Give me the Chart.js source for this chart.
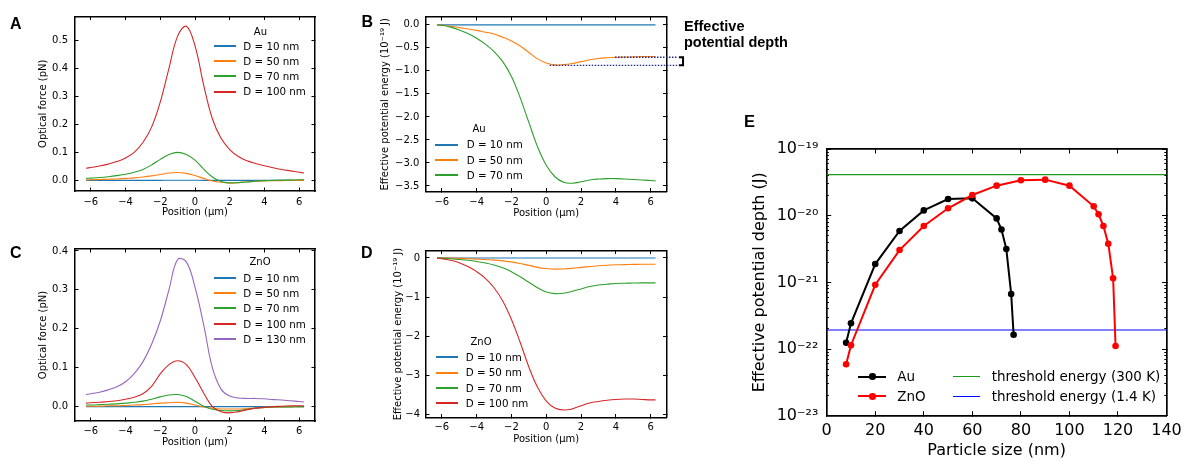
<!DOCTYPE html>
<html><head><meta charset="utf-8">
<script src="https://cdn.jsdelivr.net/npm/chart.js@4.4.1/dist/chart.umd.min.js"></script>
<style>
html,body{margin:0;padding:0;background:#fff;}
#fig{position:relative;width:1192px;height:461px;overflow:hidden;background:#fff;}
#fig canvas{position:absolute;left:0;top:0;}
.t{position:absolute;white-space:nowrap;color:#000;font-family:'DejaVu Sans',sans-serif;}
.lbl{position:absolute;white-space:nowrap;color:#000;font-family:'Liberation Sans',Arial,sans-serif;font-weight:bold;}
.ln{position:absolute;}
.dot{position:absolute;border-radius:50%;}
</style></head>
<body><div id="fig">
<canvas id="cA" width="1192" height="461"></canvas>
<canvas id="cB" width="1192" height="461"></canvas>
<canvas id="cC" width="1192" height="461"></canvas>
<canvas id="cD" width="1192" height="461"></canvas>
<canvas id="cE" width="1192" height="461"></canvas>
</div>
<script>
// ---------------- DATA ----------------
const XS = [-6.28,-6,-5.5,-5,-4.5,-4,-3.5,-3,-2.5,-2,-1.5,-1,-0.5,0,0.5,1,1.5,2,2.5,3,3.5,4,4.5,5,5.5,6,6.28];

// Panel A: Au optical force (pN)
const A_LABELS = ['D = 10 nm','D = 50 nm','D = 70 nm','D = 100 nm'];
const A_D10  = [0,0,0,0,0,0,0,0,0,0.0001,0.0002,0.0003,0.0003,0.0002,0.0001,0,0,0,0,0,0,0,0,0,0,0,0];
const A_D50  = [0.001,0.002,0.003,0.004,0.005,0.007,0.009,0.012,0.016,0.021,0.026,0.028,0.025,0.017,0.007,-0.002,-0.007,-0.009,-0.008,-0.005,-0.003,-0.002,-0.001,-0.001,0,0,0];
const A_D70  = [0.007,0.008,0.010,0.013,0.017,0.022,0.029,0.039,0.055,0.075,0.092,0.100,0.092,0.072,0.040,0.012,-0.004,-0.009,-0.008,-0.006,-0.003,-0.001,0,0.001,0.001,0.002,0.002];
const A_D100 = [0.043,0.046,0.051,0.058,0.067,0.080,0.100,0.135,0.190,0.280,0.400,0.515,0.550,0.480,0.340,0.220,0.150,0.110,0.085,0.070,0.060,0.052,0.045,0.039,0.034,0.029,0.026];

// Panel B: Au effective potential energy (1e-19 J)
const B_LABELS = ['D = 10 nm','D = 50 nm','D = 70 nm'];
const B_D10 = [0,0,0,0,0,0,0,0,0,0,0,0,0,0,0,0,0,0,0,0,0,0,0,0,0,0,0];
const B_D50 = [0,-0.01,-0.03,-0.06,-0.09,-0.12,-0.16,-0.20,-0.27,-0.35,-0.46,-0.60,-0.74,-0.83,-0.87,-0.865,-0.84,-0.80,-0.76,-0.73,-0.715,-0.705,-0.70,-0.695,-0.69,-0.69,-0.69];
const B_D70 = [0,-0.01,-0.05,-0.11,-0.19,-0.29,-0.42,-0.58,-0.80,-1.12,-1.58,-2.12,-2.65,-3.05,-3.30,-3.42,-3.44,-3.41,-3.37,-3.35,-3.34,-3.34,-3.35,-3.36,-3.37,-3.38,-3.39];
const DEPTH_TOP = -0.705, DEPTH_TOP_FROM = 3.95;
const DEPTH_BOTTOM = -0.88, DEPTH_BOTTOM_FROM = 0.2;
const DEPTH_TO = 7.52, BRACKET_X = [7.62, 7.86];

// Panel C: ZnO optical force (pN)
const C_LABELS = ['D = 10 nm','D = 50 nm','D = 70 nm','D = 100 nm','D = 130 nm'];
const C_D10  = [0,0,0,0,0,0,0,0,0,0,0,0,0,0,0,0,0,0,0,0,0,0,0,0,0,0,0];
const C_D50  = [0.001,0.001,0.001,0.002,0.002,0.003,0.004,0.005,0.007,0.009,0.010,0.011,0.009,0.004,-0.001,-0.004,-0.006,-0.006,-0.006,-0.005,-0.004,-0.002,-0.001,-0.001,0,0,0];
const C_D70  = [0.004,0.004,0.005,0.006,0.007,0.009,0.011,0.014,0.019,0.025,0.030,0.031,0.026,0.014,0.001,-0.007,-0.010,-0.011,-0.010,-0.007,-0.004,-0.002,-0.001,-0.001,-0.001,0,0];
const C_D100 = [0.009,0.010,0.011,0.013,0.015,0.019,0.024,0.033,0.052,0.084,0.108,0.118,0.108,0.075,0.035,0.000,-0.013,-0.016,-0.013,-0.008,-0.004,-0.002,0,0.001,0.002,0.002,0.002];
const C_D130 = [0.031,0.033,0.037,0.043,0.051,0.064,0.085,0.115,0.160,0.220,0.300,0.378,0.372,0.307,0.210,0.100,0.045,0.027,0.022,0.021,0.021,0.020,0.018,0.017,0.015,0.013,0.012];

// Panel D: ZnO effective potential energy (1e-19 J)
const D_LABELS = ['D = 10 nm','D = 50 nm','D = 70 nm','D = 100 nm'];
const D_D10  = [0,0,0,0,0,0,0,0,0,0,0,0,0,0,0,0,0,0,0,0,0,0,0,0,0,0,0];
const D_D50  = [0,0,-0.005,-0.01,-0.02,-0.03,-0.04,-0.055,-0.075,-0.10,-0.14,-0.19,-0.24,-0.27,-0.285,-0.28,-0.265,-0.24,-0.22,-0.20,-0.185,-0.175,-0.17,-0.165,-0.16,-0.16,-0.16];
const D_D70  = [0,-0.005,-0.02,-0.04,-0.06,-0.09,-0.13,-0.18,-0.25,-0.35,-0.48,-0.62,-0.76,-0.87,-0.91,-0.90,-0.85,-0.79,-0.73,-0.69,-0.67,-0.65,-0.645,-0.64,-0.635,-0.635,-0.635];
const D_D100 = [0,-0.02,-0.06,-0.12,-0.22,-0.35,-0.52,-0.76,-1.10,-1.57,-2.15,-2.78,-3.30,-3.65,-3.83,-3.88,-3.85,-3.77,-3.70,-3.66,-3.63,-3.61,-3.60,-3.60,-3.61,-3.62,-3.62];

// Panel E: effective potential depth (J) vs particle size (nm)
const AU_SIZE   = [8,10,20,30,40,50,60,70,72,74,76,77];
const AU_DEPTH  = [1.24e-22,2.43e-22,1.88e-21,5.9e-21,1.2e-20,1.78e-20,1.82e-20,9.1e-21,6.2e-21,3.16e-21,6.7e-22,1.64e-22];
const ZNO_SIZE  = [8,10,20,30,40,50,60,70,80,90,100,110,112,114,116,118,119];
const ZNO_DEPTH = [5.9e-23,1.14e-22,9.2e-22,3.05e-21,7.0e-21,1.29e-20,2.04e-20,2.82e-20,3.39e-20,3.47e-20,2.82e-20,1.38e-20,1.05e-20,7.0e-21,3.8e-21,1.15e-21,1.11e-22];
const THRESH_300K = 4.14e-20;
const THRESH_1_4K = 1.93e-22;
const E_LABELS = ['Au','ZnO','threshold energy (300 K)','threshold energy (1.4 K)'];

// Tick values
const POS_TICKS = [-6,-4,-2,0,2,4,6];
const A_TICKS = [0,0.1,0.2,0.3,0.4,0.5];
const B_TICKS = [0,-0.5,-1,-1.5,-2,-2.5,-3,-3.5];
const C_TICKS = [0,0.1,0.2,0.3,0.4];
const D_TICKS = [0,-1,-2,-3,-4];
const E_X_TICKS = [0,20,40,60,80,100,120,140];
const E_DECADES = [-23,-22,-21,-20,-19];
const E_MINOR_MULT = [2,3,4,5,6,7,8,9];

// ---------------- STYLE / HELPERS ----------------
const FONT = "'DejaVu Sans', sans-serif";
const COL = {c10:'#1f77b4', c50:'#ff7f0e', c70:'#2ca02c', c100:'#d62728', c130:'#9467bd'};
const SUP = {'-':'\u207B','0':'\u2070','1':'\u00B9','2':'\u00B2','3':'\u00B3','4':'\u2074','5':'\u2075','6':'\u2076','7':'\u2077','8':'\u2078','9':'\u2079'};
const sup = s => String(s).replace(/[-0-9]/g, c => SUP[c]);
const minus = s => String(s).replace('-', '\u2212');
const fmt1 = v => minus((Math.abs(v) < 1e-9 ? 0 : v).toFixed(1));
const fmt0 = v => minus(String(Math.round(v)));
const ENERGY_TITLE = 'Effective potential energy (10' + sup(-19) + ' J)';

function curve(ys, color, i, xs) {
  xs = xs || XS;
  return {data: xs.map((x, k) => ({x, y: ys[k]})), borderColor: color, borderWidth: 1.1,
    pointRadius: 0, tension: 0.4, fill: false, order: -i, xAxisID: 'x', yAxisID: 'y'};
}

function buildPanel(id, P, datasets) {
  const f = {family: FONT, size: P.fs};
  const setTicks = arr => s => { s.ticks = arr.map(v => ({value: v})); };
  const grid = tl => ({display: true, drawOnChartArea: false, drawTicks: true, tickLength: -tl, tickColor: '#000', tickWidth: 1});
  const border = {display: true, color: '#000', width: P.bw};
  const yType = P.yType || 'linear';
  const scales = {
    x: {type: 'linear', position: 'bottom', min: P.xMin, max: P.xMax,
      afterBuildTicks: setTicks(P.xTicks), afterFit: s => { s.height = P.xH; },
      ticks: {autoSkip: false, maxRotation: 0, minRotation: 0, padding: P.xPad, color: '#000', font: f, callback: P.xFmt},
      grid: grid(P.tl), border: border,
      title: {display: true, text: P.xTitle, color: '#000', font: f, padding: 0}},
    xTop: {type: 'linear', axis: 'x', position: 'top', min: P.xMin, max: P.xMax,
      afterBuildTicks: setTicks(P.xTicks), afterFit: s => { s.height = 0; },
      ticks: {display: false}, grid: grid(P.tl), border: border},
    y: {type: yType, position: 'left', weight: 2, min: P.yMin, max: P.yMax,
      afterBuildTicks: setTicks(P.yTicks), afterFit: s => { s.width = P.left - P.padL; },
      ticks: {autoSkip: false, padding: P.yPad, color: '#000', font: f, callback: P.yFmt},
      grid: grid(P.tl), border: border,
      title: {display: true, text: P.yTitle, color: '#000', font: f, padding: 0}},
    yRight: {type: yType, axis: 'y', position: 'right', min: P.yMin, max: P.yMax,
      afterBuildTicks: setTicks(P.yTicks), afterFit: s => { s.width = 0; },
      ticks: {display: false}, grid: grid(P.tl), border: border}
  };
  if (P.yMinor) {
    scales.yMinorL = {type: yType, axis: 'y', position: 'left', weight: 1, min: P.yMin, max: P.yMax,
      afterBuildTicks: setTicks(P.yMinor), afterFit: s => { s.width = 0; },
      ticks: {display: false}, grid: grid(P.tlMinor), border: {display: false}};
    scales.yMinorR = {type: yType, axis: 'y', position: 'right', min: P.yMin, max: P.yMax,
      afterBuildTicks: setTicks(P.yMinor), afterFit: s => { s.width = 0; },
      ticks: {display: false}, grid: grid(P.tlMinor), border: {display: false}};
  }
  return new Chart(document.getElementById(id), {
    type: 'line',
    data: {datasets},
    options: {
      responsive: false, animation: false, events: [],
      layout: {autoPadding: false, padding: {left: P.padL, top: P.top, right: 1192 - P.right, bottom: 461 - P.bottom - P.xH}},
      plugins: {legend: {display: false}, tooltip: {enabled: false}},
      scales
    }
  });
}

const fig = document.getElementById('fig');
function addText(text, left, cy, size, opts) {
  opts = opts || {};
  const d = document.createElement('div');
  d.className = opts.bold ? 'lbl' : 't';
  d.textContent = text;
  d.style.fontSize = size + 'px';
  d.style.lineHeight = size + 'px';
  d.style.top = (opts.capTop !== undefined ? opts.capTop - 0.13 * size : cy - 0.48 * size) + 'px';
  d.style.left = left + 'px';
  if (opts.center) d.style.transform = 'translateX(-50%)';
  fig.appendChild(d);
}
function addLine(x0, x1, cy, color, w) {
  const d = document.createElement('div');
  d.className = 'ln';
  d.style.left = Math.round(x0) + 'px'; d.style.width = Math.round(x1 - x0) + 'px';
  d.style.top = Math.round(cy - w / 2) + 'px'; d.style.height = w + 'px';
  d.style.background = color;
  fig.appendChild(d);
}
function addDot(cx, cy, r, color) {
  const d = document.createElement('div');
  d.className = 'dot';
  d.style.left = (cx - r) + 'px'; d.style.top = (cy - r) + 'px';
  d.style.width = (2 * r) + 'px'; d.style.height = (2 * r) + 'px';
  d.style.background = color;
  fig.appendChild(d);
}
function legend(L, labels, colors) {
  addText(L.title, L.titleCx, L.titleCy, L.titleSize, {center: true});
  labels.forEach((lab, i) => {
    const cy = L.row0 + i * L.dy;
    addLine(L.x0, L.x1, cy, colors[i], 1.5);
    addText(lab, L.tx, cy, L.size);
  });
}

// ---------------- PANELS ----------------
const POS_TITLE = 'Position (\u00B5m)';
const FORCE_TITLE = 'Optical force (pN)';

buildPanel('cA', {left: 75, right: 315, top: 16, bottom: 191, padL: 37.7, xH: 27.5, fs: 10, tl: 3.5, bw: 1.5,
  xPad: 8.7, yPad: 10.5, xMin: -6.91, xMax: 6.91, yMin: -0.038, yMax: 0.585,
  xTicks: POS_TICKS, yTicks: A_TICKS, xFmt: fmt0, yFmt: fmt1, xTitle: POS_TITLE, yTitle: FORCE_TITLE},
  [curve(A_D10, COL.c10, 0), curve(A_D50, COL.c50, 1), curve(A_D70, COL.c70, 2), curve(A_D100, COL.c100, 3)]);

const bDot = (y, x0) => ({data: [{x: x0, y}, {x: DEPTH_TO, y}], borderColor: '#1c2f86', borderWidth: 1.4,
  borderDash: [1.5, 1.5], pointRadius: 0, tension: 0, clip: false, order: -10, xAxisID: 'x', yAxisID: 'y'});
buildPanel('cB', {left: 426, right: 666.5, top: 17, bottom: 191.5, padL: 379, xH: 27.8, fs: 10, tl: 3.5, bw: 1.5,
  xPad: 8.3, yPad: 10.2, xMin: -6.91, xMax: 6.91, yMin: -3.62, yMax: 0.17,
  xTicks: POS_TICKS, yTicks: B_TICKS, xFmt: fmt0, yFmt: fmt1, xTitle: POS_TITLE, yTitle: ENERGY_TITLE},
  [curve(B_D10, COL.c10, 0), curve(B_D50, COL.c50, 1), curve(B_D70, COL.c70, 2),
   bDot(DEPTH_TOP, DEPTH_TOP_FROM), bDot(DEPTH_BOTTOM, DEPTH_BOTTOM_FROM),
   {data: [{x: BRACKET_X[0], y: DEPTH_TOP}, {x: BRACKET_X[1], y: DEPTH_TOP}, {x: BRACKET_X[1], y: DEPTH_BOTTOM}, {x: BRACKET_X[0], y: DEPTH_BOTTOM}],
    borderColor: '#000', borderWidth: 2, pointRadius: 0, tension: 0, clip: false, order: -11, xAxisID: 'x', yAxisID: 'y'}]);

buildPanel('cC', {left: 75, right: 315, top: 249, bottom: 421, padL: 37.7, xH: 27.5, fs: 10, tl: 3.5, bw: 1.5,
  xPad: 7.5, yPad: 10.5, xMin: -6.91, xMax: 6.91, yMin: -0.037, yMax: 0.405,
  xTicks: POS_TICKS, yTicks: C_TICKS, xFmt: fmt0, yFmt: fmt1, xTitle: POS_TITLE, yTitle: FORCE_TITLE},
  [curve(C_D10, COL.c10, 0), curve(C_D50, COL.c50, 1), curve(C_D70, COL.c70, 2), curve(C_D100, COL.c100, 3), curve(C_D130, COL.c130, 4)]);

buildPanel('cD', {left: 426, right: 666.5, top: 250.5, bottom: 417.5, padL: 392, xH: 28, fs: 10, tl: 3.5, bw: 1.5,
  xPad: 7.7, yPad: 9.5, xMin: -6.91, xMax: 6.91, yMin: -4.07, yMax: 0.19,
  xTicks: POS_TICKS, yTicks: D_TICKS, xFmt: fmt0, yFmt: fmt0, xTitle: POS_TITLE, yTitle: ENERGY_TITLE},
  [curve(D_D10, COL.c10, 0), curve(D_D50, COL.c50, 1), curve(D_D70, COL.c70, 2), curve(D_D100, COL.c100, 3)]);

const E_MAJOR = E_DECADES.map(e => Math.pow(10, e));
const E_MINOR = [];
E_DECADES.slice(0, -1).forEach(e => E_MINOR_MULT.forEach(m => E_MINOR.push(m * Math.pow(10, e))));
const hline = (y, color) => ({data: [{x: E_X_TICKS[0], y}, {x: E_X_TICKS[E_X_TICKS.length - 1], y}], borderColor: color,
  borderWidth: 1.2, pointRadius: 0, tension: 0, order: 5, xAxisID: 'x', yAxisID: 'y'});
const series = (xs, ys, color, o) => ({data: xs.map((x, k) => ({x, y: ys[k]})), borderColor: color, borderWidth: 2,
  pointRadius: 3.3, pointBackgroundColor: color, pointBorderColor: color, pointBorderWidth: 0, tension: 0, order: o,
  xAxisID: 'x', yAxisID: 'y'});
buildPanel('cE', {left: 826.7, right: 1173.3, top: 149, bottom: 415.7, padL: 750.4, xH: 44.9, fs: 16, tl: 4.5, tlMinor: 2.2, bw: 1.7,
  xPad: 10.2, yPad: 12.9, xMin: 0, xMax: 140, yType: 'logarithmic', yMin: E_MAJOR[0], yMax: E_MAJOR[E_MAJOR.length - 1],
  xTicks: E_X_TICKS, yTicks: E_MAJOR, yMinor: E_MINOR,
  xFmt: v => String(v), yFmt: v => '10' + sup(Math.round(Math.log10(v))),
  xTitle: 'Particle size (nm)', yTitle: 'Effective potential depth (J)'},
  [hline(THRESH_300K, '#1a9a1a'), hline(THRESH_1_4K, '#0000ff'),
   series(AU_SIZE, AU_DEPTH, '#000000', 1), series(ZNO_SIZE, ZNO_DEPTH, '#ff0000', 0)]);

// ---------------- LEGENDS & LABELS ----------------
legend({title: 'Au', titleCx: 260.4, titleCy: 31.7, titleSize: 10, row0: 46, dy: 15.1, x0: 214, x1: 236, tx: 243.3, size: 10.3},
  A_LABELS, [COL.c10, COL.c50, COL.c70, COL.c100]);
legend({title: 'Au', titleCx: 479, titleCy: 129, titleSize: 10, row0: 144.3, dy: 15.35, x0: 435, x1: 458.3, tx: 466.7, size: 10.3},
  B_LABELS, [COL.c10, COL.c50, COL.c70]);
legend({title: 'ZnO', titleCx: 260, titleCy: 262, titleSize: 10, row0: 277.7, dy: 15.25, x0: 214, x1: 236, tx: 243.3, size: 10.3},
  C_LABELS, [COL.c10, COL.c50, COL.c70, COL.c100, COL.c130]);
legend({title: 'ZnO', titleCx: 481, titleCy: 341.7, titleSize: 10, row0: 357, dy: 15.25, x0: 435.7, x1: 457.3, tx: 465.7, size: 10.3},
  D_LABELS, [COL.c10, COL.c50, COL.c70, COL.c100]);

// panel E legend (2 columns)
addLine(858.3, 886.7, 376.7, '#000', 2); addDot(872.5, 376.7, 3.3, '#000'); addText(E_LABELS[0], 897.3, 376.7, 13.5);
addLine(858.3, 886.7, 396.3, '#ff0000', 2); addDot(872.5, 396.3, 3.3, '#ff0000'); addText(E_LABELS[1], 897.3, 396.3, 13.5);
addLine(953.3, 980.7, 376.7, '#1a9a1a', 1); addText(E_LABELS[2], 991.7, 376.7, 13.5);
addLine(953.3, 980.7, 396.3, '#0000ff', 1); addText(E_LABELS[3], 991.7, 396.3, 13.5);

// panel letters
addText('A', 10, 0, 16, {bold: true, capTop: 18.3});
addText('B', 361.5, 0, 16, {bold: true, capTop: 16});
addText('C', 10, 0, 16, {bold: true, capTop: 246.7});
addText('D', 361, 0, 16, {bold: true, capTop: 247});
addText('E', 744, 0, 16.5, {bold: true, capTop: 115});

// annotation
addText('Effective', 684, 0, 14.5, {bold: true, capTop: 20.7});
addText('potential depth', 684, 0, 14.5, {bold: true, capTop: 36.4});
</script>
</body></html>
